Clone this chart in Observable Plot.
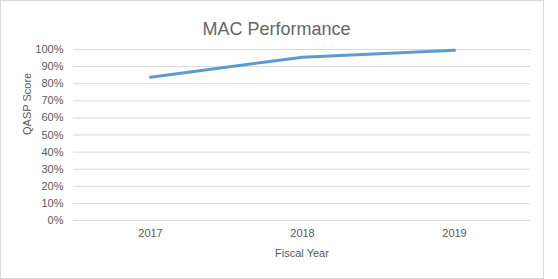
<!DOCTYPE html>
<html>
<head>
<meta charset="utf-8">
<script src="https://cdn.jsdelivr.net/npm/d3@7"></script>
<script src="https://cdn.jsdelivr.net/npm/@observablehq/plot@0.6"></script>
<style>
  html, body { margin: 0; padding: 0; background: #fff; }
  #wrap { position: relative; width: 558px; height: 279px; }
  #border { position: absolute; left: 0; top: 0; width: 544px; height: 279px; box-sizing: border-box; border: 1px solid #D9D9D9; }
  #chart { position: absolute; left: 0; top: 0; }
</style>
</head>
<body>
<div id="wrap"><div id="border"></div><div id="chart"></div></div>
<script>
const years = ["2017", "2018", "2019"];
const scores = [0.838, 0.955, 0.995];
const yTicks = [0, 0.1, 0.2, 0.3, 0.4, 0.5, 0.6, 0.7, 0.8, 0.9, 1.0];
const title = "MAC Performance";
const xLabel = "Fiscal Year";
const yLabel = "QASP Score";

const data = years.map((y, i) => ({year: y, score: scores[i]}));
const grey = "#595959";

const chart = Plot.plot({
  width: 558,
  height: 279,
  marginLeft: 73,
  marginRight: 28,
  marginTop: 49,
  marginBottom: 59,
  style: {fontFamily: "'Liberation Sans', Arial, sans-serif", fontSize: "11px", color: grey, background: "transparent"},
  x: {type: "point", domain: years, padding: 0.5, label: null},
  y: {domain: [0, 1], label: null},
  marks: [
    Plot.gridY(yTicks, {stroke: "#D9D9D9", strokeOpacity: 1, strokeWidth: 1}),
    Plot.axisY(yTicks, {tickSize: 0, tickPadding: 10, tickFormat: d3.format(".0%"), label: null, fill: grey}),
    Plot.axisX({tickSize: 0, tickPadding: 9, label: null, fill: grey}),
    Plot.line(data, {x: "year", y: "score", stroke: "#5B9BD5", strokeWidth: 3, strokeLinecap: "round", strokeLinejoin: "round"}),
    Plot.text([title], {frameAnchor: "top", dy: -27, dx: -25.5, text: d => d, fontSize: 18, fill: "#666666"}),
    Plot.text([xLabel], {frameAnchor: "bottom", dy: 36, text: d => d, fontSize: 11, fill: grey}),
    Plot.text([yLabel], {frameAnchor: "left", dx: -46, rotate: -90, text: d => d, fontSize: 11, fill: grey})
  ]
});
document.getElementById("chart").appendChild(chart);
</script>
</body>
</html>
